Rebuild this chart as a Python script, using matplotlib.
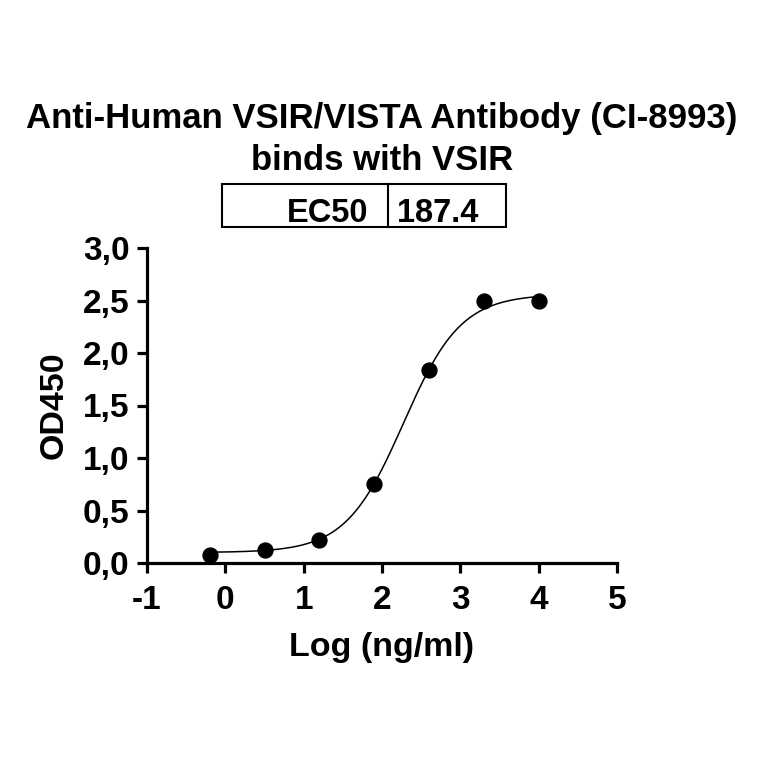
import numpy as np
import matplotlib
matplotlib.use('Agg')
import matplotlib.pyplot as plt
from matplotlib.patches import Rectangle
from matplotlib.ticker import FuncFormatter

# measured points
log_conc = [-0.2, 0.5, 1.2, 1.9, 2.6, 3.3, 4.0]
od450 = [0.08, 0.12, 0.22, 0.75, 1.84, 2.50, 2.50]

# 4PL fit parameters
bottom, top = 0.10, 2.56
ec50 = 187.4
hill = 1.18

title_lines = ['Anti-Human VSIR/VISTA Antibody (CI-8993)', 'binds with VSIR']
xticks = [-1, 0, 1, 2, 3, 4, 5]
yticks = [0, 0.5, 1.0, 1.5, 2.0, 2.5, 3.0]

plt.rcParams['font.family'] = ['Liberation Sans', 'DejaVu Sans']
plt.rcParams['font.weight'] = 'bold'

W = 764
fig = plt.figure(figsize=(7.64, 7.64), dpi=100)
ax = fig.add_axes([147 / W, 1 - 563 / W, 470 / W, 315 / W])

xs = np.linspace(min(log_conc), max(log_conc), 300)
ys = bottom + (top - bottom) / (1 + 10 ** ((np.log10(ec50) - xs) * hill))
ax.plot(xs, ys, color='black', lw=1.1)
ax.scatter(log_conc, od450, s=115, color='black', zorder=3, clip_on=False)

ax.set_xlim(-1, 5)
ax.set_ylim(0, 3.0)
ax.set_xticks(xticks)
ax.set_xticklabels([str(t) for t in xticks])
ax.set_yticks(yticks)
ax.yaxis.set_major_formatter(FuncFormatter(lambda v, p: f'{v:.1f}'.replace('.', ',')))
for s in ['top', 'right']:
    ax.spines[s].set_visible(False)
for s in ['left', 'bottom']:
    ax.spines[s].set_linewidth(2.3)
ax.tick_params(width=2.3, length=7.5, labelsize=24)
ax.tick_params(axis='x', pad=8)
ax.tick_params(axis='y', pad=5)
for lab in ax.get_xticklabels() + ax.get_yticklabels():
    lab.set_fontweight('bold')

ax.set_xlabel('Log (ng/ml)', fontsize=24.5, fontweight='bold', labelpad=12)
ax.set_ylabel('OD450', fontsize=24.5, fontweight='bold', labelpad=10)

fig.text(0.5, 1 - 128 / W, title_lines[0], ha='center', va='baseline',
         fontsize=25, fontweight='bold')
fig.text(0.5, 1 - 170 / W, title_lines[1], ha='center', va='baseline',
         fontsize=25, fontweight='bold')

# EC50 box
x0, x1, x2 = 222 / W, 388 / W, 506 / W
y0, y1 = 1 - 227 / W, 1 - 184 / W
fig.patches.append(Rectangle((x0, y0), x2 - x0, y1 - y0, transform=fig.transFigure,
                             fill=False, lw=1.5, color='black'))
fig.lines.append(plt.Line2D([x1, x1], [y0, y1], transform=fig.transFigure,
                            lw=1.5, color='black'))
fig.text(368 / W, 1 - 222 / W, 'EC50', ha='right', va='baseline',
         fontsize=23.5, fontweight='bold')
fig.text(397 / W, 1 - 222 / W, f'{ec50}', ha='left', va='baseline',
         fontsize=23.5, fontweight='bold')

fig.savefig('out.png', dpi=100)
